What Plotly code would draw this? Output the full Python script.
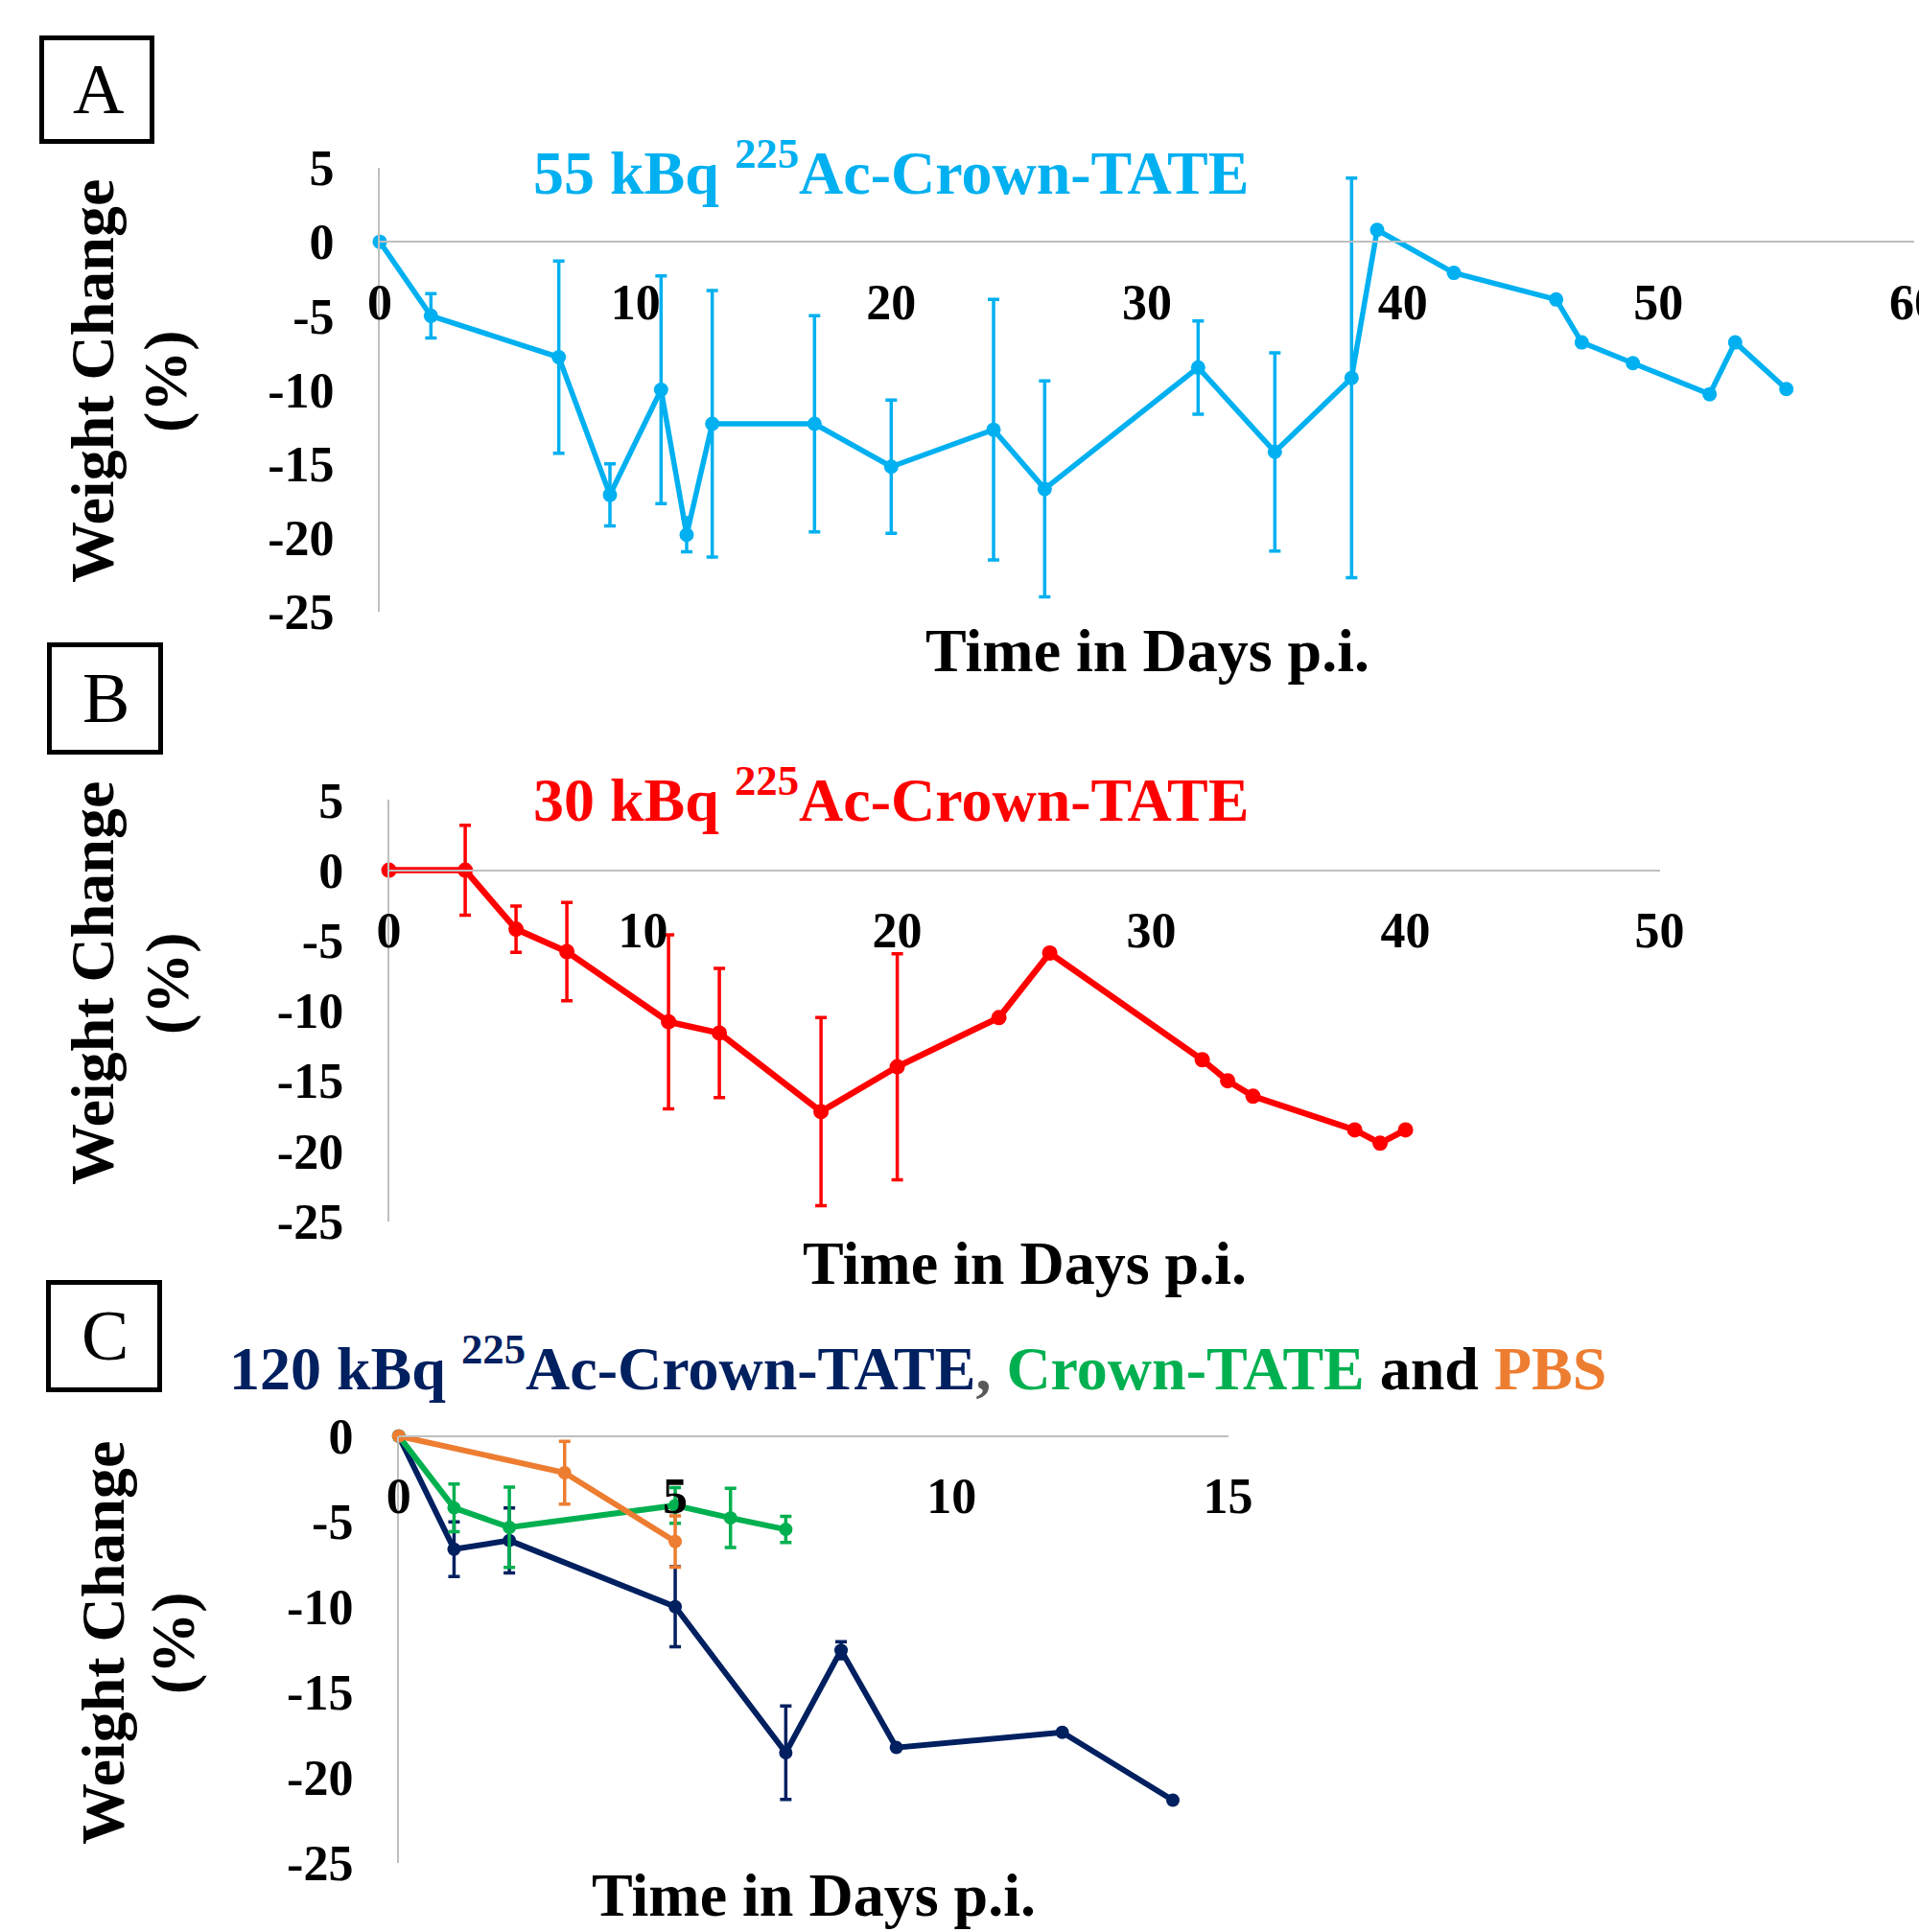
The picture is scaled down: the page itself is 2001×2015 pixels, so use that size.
import plotly.graph_objects as go

W, H = 2001, 2015

# ---------------- data ----------------
# Panel A: 55 kBq 225Ac-Crown-TATE
a_days = [0, 2, 7, 9, 11, 12, 13, 17, 20, 24, 26, 32, 35, 38, 39, 42, 46, 47, 49, 52, 53, 55]
a_vals = [0, -5.0, -7.8, -17.1, -10.0, -19.8, -12.3, -12.3, -15.2, -12.7, -16.7, -8.5, -14.2, -9.2,
          0.8, -2.1, -3.9, -6.8, -8.2, -10.3, -6.8, -9.95]
a_err = [None, 1.5, 6.5, 2.1, 7.7, 1.15, 9.0, 7.3, 4.5, 8.8, 7.3, 3.15, 6.7, 13.5,
         None, None, None, None, None, None, None, None]

# Panel B: 30 kBq 225Ac-Crown-TATE
b_days = [0, 3, 5, 7, 11, 13, 17, 20, 24, 26, 32, 33, 34, 38, 39, 40]
b_vals = [0, 0, -4.2, -5.8, -10.8, -11.6, -17.2, -14.0, -10.5, -5.9, -13.5, -15.0, -16.1, -18.5, -19.45, -18.5]
b_err = [None, 3.2, 1.65, 3.5, 6.2, 4.6, 6.7, 8.05, None, None, None, None, None, None, None, None]

# Panel C: 120 kBq 225Ac-Crown-TATE, Crown-TATE, PBS
c_ac_days = [0, 1, 2, 5, 7, 8, 9, 12, 14]
c_ac_vals = [0, -6.63, -6.12, -10.0, -18.55, -12.55, -18.25, -17.36, -21.33]
c_ac_err = [None, 1.6, 1.9, 2.35, 2.74, 0.5, None, None, None]

c_ct_days = [0, 1, 2, 5, 6, 7]
c_ct_vals = [0, -4.21, -5.35, -4.07, -4.8, -5.47]
c_ct_err = [None, 1.4, 2.35, 1.05, 1.73, 0.77]

c_pbs_days = [0, 3, 5]
c_pbs_vals = [0, -2.15, -6.18]
c_pbs_err = [None, 1.84, 1.5]

a_xticks = [0, 10, 20, 30, 40, 50, 60]
b_xticks = [0, 10, 20, 30, 40, 50]
c_xticks = [0, 5, 10, 15]
ab_yticks = [5, 0, -5, -10, -15, -20, -25]
c_yticks = [0, -5, -10, -15, -20, -25]

CYAN = "#00B0F0"
RED = "#FF0000"
NAVY = "#002060"
GREEN = "#00B050"
ORANGE = "#ED7D31"
GRAY = "#BFBFBF"
FONT = "Liberation Serif"


def fx(p):
    return p / W


def fy(p):
    return 1 - p / H


fig = go.Figure()


def add_series(days, vals, errs, color, xa, ya, lw=6, ms=14):
    ed = [d for d, e in zip(days, errs) if e is not None]
    ev = [v for v, e in zip(vals, errs) if e is not None]
    ee = [e for e in errs if e is not None]
    fig.add_trace(go.Scatter(
        x=ed, y=ev, mode="markers", xaxis=xa, yaxis=ya, cliponaxis=False,
        marker=dict(color=color, size=1, opacity=0),
        error_y=dict(type="data", array=ee, visible=True, color=color, thickness=3.5, width=6),
        showlegend=False, hoverinfo="skip"))
    fig.add_trace(go.Scatter(
        x=days, y=vals, mode="lines+markers", xaxis=xa, yaxis=ya, cliponaxis=False,
        line=dict(color=color, width=lw), marker=dict(color=color, size=ms),
        showlegend=False, hoverinfo="skip"))


add_series(a_days, a_vals, a_err, CYAN, "x", "y", lw=5.5, ms=15)
add_series(b_days, b_vals, b_err, RED, "x2", "y2", lw=6.5, ms=16)
add_series(c_ac_days, c_ac_vals, c_ac_err, NAVY, "x3", "y3", lw=6, ms=14)
add_series(c_ct_days, c_ct_vals, c_ct_err, GREEN, "x3", "y3", lw=6, ms=14)
add_series(c_pbs_days, c_pbs_vals, c_pbs_err, ORANGE, "x3", "y3", lw=6, ms=14)

tickfont = dict(family=FONT, size=52, color="black", weight="bold")

panels = [
    dict(xd=(396, 1996), yd=(175, 638), xr=(0, 60), yr=(-25, 5), xt=a_xticks, yt=ab_yticks),
    dict(xd=(405.6, 1730.6), yd=(834.4, 1273.6), xr=(0, 50), yr=(-25, 5), xt=b_xticks, yt=ab_yticks),
    dict(xd=(415.8, 1280.6), yd=(1497.7, 1942.8), xr=(0, 15), yr=(-25, 0), xt=c_xticks, yt=c_yticks),
]

layout_axes = {}
for i, p in enumerate(panels):
    sfx = "" if i == 0 else str(i + 1)
    y0, y1 = fy(p["yd"][1]), fy(p["yd"][0])
    ymin, ymax = p["yr"]
    pos0 = y0 + (0 - ymin) / (ymax - ymin) * (y1 - y0)
    layout_axes["xaxis" + sfx] = dict(
        domain=[fx(p["xd"][0]), fx(p["xd"][1])], range=list(p["xr"]),
        anchor="free", position=pos0, showline=True, linecolor=GRAY, linewidth=2,
        showgrid=False, zeroline=False, ticks="", tickvals=p["xt"],
        ticktext=[str(v) for v in p["xt"]], tickfont=tickfont, ticklabelstandoff=17,
        ticklabeloverflow="allow", automargin=False, fixedrange=True)
    layout_axes["yaxis" + sfx] = dict(
        domain=[y0, y1], range=list(p["yr"]), anchor="x" + sfx,
        showline=True, linecolor=GRAY, linewidth=2, showgrid=False, zeroline=False,
        ticks="", tickvals=p["yt"], ticktext=[str(v) for v in p["yt"]],
        tickfont=tickfont, ticklabelstandoff=35, ticklabeloverflow="allow",
        automargin=False, fixedrange=True)

annotations = []


def ann(text, x, y, size, color="black", weight="bold", angle=0):
    annotations.append(dict(
        text=text, x=fx(x), y=fy(y), xref="paper", yref="paper",
        xanchor="center", yanchor="middle", showarrow=False, textangle=angle,
        font=dict(family=FONT, size=size, color=color, weight=weight)))


# panel titles
ann("55 kBq <sup>225</sup>Ac-Crown-TATE", 928.5, 175, 64, CYAN)
ann("30 kBq <sup>225</sup>Ac-Crown-TATE", 928.5, 829, 64, RED)
ann('<span style="color:#002060">120 kBq <sup>225</sup>Ac-Crown-TATE</span>'
    '<span style="color:#595959">, </span>'
    '<span style="color:#00B050">Crown-TATE</span>'
    '<span style="color:black"> and </span>'
    '<span style="color:#ED7D31">PBS</span>', 957, 1422.6, 64, NAVY)

# x-axis titles
ann("Time in Days p.i.", 1196, 678, 64)
ann("Time in Days p.i.", 1068, 1317, 64)
ann("Time in Days p.i.", 848, 1976, 64)

# y-axis titles
for (xw, xp, yc) in [(96, 172, 398), (96, 174, 1026), (107, 180, 1714)]:
    ann("Weight Change", xw, yc, 64, angle=-90)
    ann("(%)", xp, yc, 64, angle=-90)

# panel letters
shapes = []
for letter, (l, t, r, b) in [("A", (41, 37, 161, 150)), ("B", (49, 670, 170, 787)), ("C", (48, 1335, 169, 1452))]:
    shapes.append(dict(type="rect", xref="paper", yref="paper",
                       x0=fx(l + 2.5), x1=fx(r - 2.5), y0=fy(b - 2.5), y1=fy(t + 2.5),
                       line=dict(color="black", width=5), fillcolor="rgba(0,0,0,0)"))
    ann(letter, (l + r) / 2 + 1, (t + b) / 2 - 1, 74, weight="normal")

fig.update_layout(
    width=W, height=H, margin=dict(l=0, r=0, t=0, b=0, autoexpand=False),
    paper_bgcolor="white", plot_bgcolor="rgba(0,0,0,0)",
    annotations=annotations, shapes=shapes, showlegend=False,
    **layout_axes)

fig.write_html("out.html", config={"displayModeBar": False})
